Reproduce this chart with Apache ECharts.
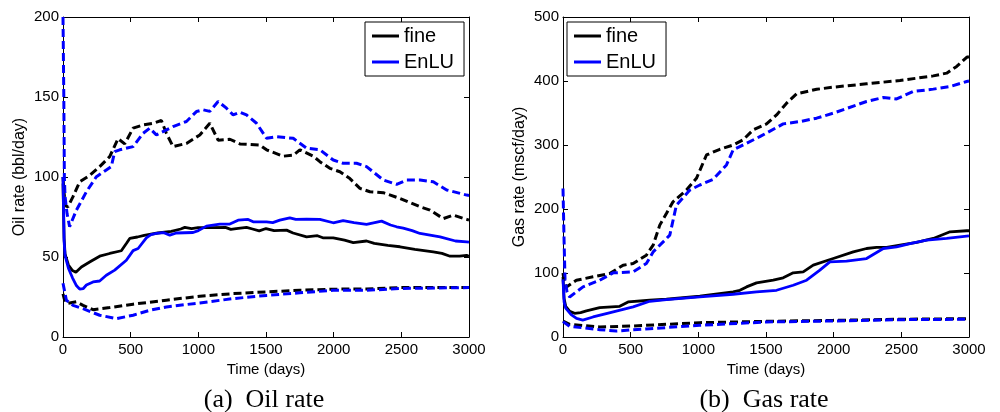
<!DOCTYPE html>
<html>
<head>
<meta charset="utf-8">
<script src="https://cdn.jsdelivr.net/npm/echarts@6/dist/echarts.min.js"></script>
<style>html,body{margin:0;padding:0;background:#fff;}#c{width:1000px;height:412px;}</style>
</head>
<body>
<div id="c"></div>
<script>
// ---------- data (time in days, rate) ----------
var xTicks = [0, 500, 1000, 1500, 2000, 2500, 3000];
var oilTicks = [0, 50, 100, 150, 200];
var gasTicks = [0, 100, 200, 300, 400, 500];
var legendNames = ['fine', 'EnLU'];
var captions = ['(a)  Oil rate', '(b)  Gas rate'];
var yNames = ['Oil rate (bbl/day)', 'Gas rate (mscf/day)'];
var xName = 'Time (days)';

var oilFineMean = [[0,96],[8,62],[15,52],[40,45],[70,41.5],[95,40.5],[136,43.8],[200,47],[271,50.5],[345,52.2],[431,53.9],[468,58.4],[493,61.6],[550,62.5],[600,63.5],[700,65],[800,66],[870,67.5],[900,68.5],[950,67.8],[998,68.3],[1100,68.3],[1200,68.5],[1240,67.3],[1280,67.8],[1356,68.5],[1400,67.5],[1450,66.3],[1500,67.8],[1560,66.5],[1652,66.8],[1700,65],[1800,62.6],[1880,63.3],[1920,62],[1997,62],[2080,60.5],[2145,59],[2243,60],[2300,58.5],[2400,57.3],[2490,56.4],[2600,54.8],[2736,53.2],[2800,52.3],[2860,50.5],[2930,50.5],[2983,51],[3000,50.5]];
var oilEnluMean = [[0,100],[8,60],[15,51],[40,43],[70,37],[100,32],[123,30],[150,30.3],[173,32.5],[222,34.4],[271,35],[320,38.6],[382,41.8],[468,48],[518,54],[555,55.3],[616,62],[650,64],[690,64.7],[740,65.3],[789,63.7],[838,65],[961,65.3],[1000,66.5],[1060,69.3],[1159,70.6],[1233,70.6],[1294,73],[1368,73.5],[1405,72],[1504,72],[1550,71.5],[1602,73],[1676,74.5],[1720,73.5],[1800,73.7],[1898,73.5],[1997,71.4],[2070,72.7],[2150,71.5],[2243,70.4],[2354,72.4],[2420,70],[2465,68.9],[2514,68],[2580,66.5],[2638,64.7],[2786,62.6],[2900,60],[2983,59.5],[3000,59.3]];
var oilFineUpper = [[0,100],[8,90],[20,82],[37,81.4],[74,87.7],[123,97],[197,101],[271,106.5],[345,112.7],[407,124],[456,120.7],[518,130.5],[592,132.6],[666,133.6],[727,135.3],[764,127.3],[813,119],[912,121],[1011,126.3],[1085,133.6],[1146,123],[1233,123.6],[1307,120.7],[1454,120],[1504,117],[1627,113],[1701,113.6],[1750,117],[1849,113],[1898,109.6],[1972,105.4],[2046,103.3],[2120,99],[2194,92.9],[2268,90.8],[2367,90.2],[2490,86.6],[2638,81.4],[2712,79.3],[2810,74],[2884,76.2],[2983,73.5],[3000,73]];
var oilEnluUpper = [[0,200],[6,150],[10,100],[15,88],[30,77],[49,69],[99,79.3],[173,90.8],[247,100.2],[320,104.4],[357,106.5],[382,115.9],[419,117],[518,119],[592,127.3],[641,130.5],[690,126.3],[764,129.4],[813,131.5],[912,134.7],[986,140.9],[1035,142],[1085,141],[1146,147.2],[1208,143],[1257,138.8],[1307,140.5],[1356,138.8],[1430,133.6],[1504,124.2],[1578,125.2],[1701,124.2],[1800,118],[1898,117],[1997,110.6],[2070,108.6],[2169,108.6],[2243,106.5],[2367,98.1],[2465,95.4],[2539,98.1],[2638,98.1],[2736,97],[2835,91.9],[2983,88.7],[3000,88.5]];
var oilFineLower = [[0,27],[15,22],[37,21],[99,22],[148,19.8],[222,17.1],[345,18.4],[518,20.5],[764,23],[1011,25.5],[1257,27.1],[1504,28.2],[1750,29.2],[1997,29.9],[2243,30],[2490,30.9],[3000,30.9]];
var oilEnluLower = [[0,33.6],[25,23],[74,19.8],[148,17.7],[271,13.6],[394,11.5],[518,13.6],[641,16.7],[764,18.8],[1011,21.3],[1257,24],[1504,26],[1750,27.6],[1997,29.2],[2243,29.2],[2490,30.3],[3000,30.9]];

var gasFineMean = [[0,94],[8,60],[20,48],[50,40],[86,37],[130,38],[173,40.7],[271,46],[419,48],[481,54.8],[641,57.4],[764,59],[1011,63.7],[1257,70.5],[1307,73],[1356,78.3],[1430,84.6],[1553,88.7],[1627,92.4],[1701,100.2],[1775,101.8],[1849,112.2],[1997,122.6],[2145,133],[2243,138.3],[2317,139.9],[2391,140],[2490,143.5],[2613,147.7],[2736,154],[2860,164.4],[2983,166],[3000,166]];
var gasEnluMean = [[0,90],[8,55],[20,45],[60,35],[100,29],[146,26.5],[222,31.3],[320,36.5],[518,47],[641,55.8],[764,58.5],[1011,62.6],[1257,66.8],[1430,70.5],[1578,73],[1701,80.9],[1800,88.7],[1898,104.4],[1972,117.4],[2095,118.5],[2243,122.6],[2367,138.3],[2465,140.9],[2564,146],[2687,151.3],[2835,154],[2983,157.6],[3000,158]];
var gasFineUpper = [[0,100],[10,85],[25,78],[99,88.7],[222,94],[345,99.2],[444,112.2],[518,114.8],[616,127.9],[666,143.5],[715,174.8],[764,193],[813,211.3],[912,229.6],[986,247.9],[1060,284.4],[1159,293.3],[1257,300],[1331,308],[1405,323.6],[1504,333],[1578,347],[1652,365.3],[1726,380],[1874,387],[1997,390.4],[2243,395.6],[2490,400.8],[2736,408],[2835,412.3],[2909,422.7],[2983,437],[3000,438]];
var gasEnluUpper = [[0,232],[8,150],[15,90],[30,70],[49,62.6],[148,78.3],[271,88.7],[370,100.2],[518,101.8],[616,114.8],[666,133],[740,148.7],[789,159.2],[838,206],[937,229.6],[1011,237.5],[1109,246.3],[1208,268.8],[1257,292.3],[1356,302.7],[1454,313],[1627,333],[1750,336.6],[1874,341.9],[1997,349.7],[2243,368],[2367,374.2],[2465,372],[2588,383.6],[2736,387.3],[2860,391.4],[2983,399.3],[3000,400]];
var gasFineLower = [[0,25],[49,19.8],[271,15.7],[518,17.2],[764,19.8],[1011,22.4],[1504,24.5],[1997,26],[2490,27.7],[3000,28.7]];
var gasEnluLower = [[0,24],[49,16.7],[271,11.5],[394,9.4],[641,13],[1011,18.3],[1504,23.5],[1997,25],[2490,27.1],[3000,27.7]];

// ---------- chart ----------
var FONT = '"Liberation Sans", Arial, Helvetica, sans-serif';
var SERIF = '"Liberation Serif", "Times New Roman", serif';
var BLACK = '#000000', BLUE = '#0000ff';
var chart = echarts.init(document.getElementById('c'), null, {renderer: 'canvas'});

var grids = [
  {left: 63, top: 17, width: 406, height: 320},
  {left: 563, top: 17, width: 406, height: 320}
];
var yTicksList = [oilTicks, gasTicks];

function tickStep(t) { return t[1] - t[0]; }
function plain(v) { return String(v); }

var xAxes = [], yAxes = [];
for (var g = 0; g < 2; g++) {
  var yt = yTicksList[g];
  xAxes.push({
    gridIndex: g, type: 'value', position: 'bottom',
    min: xTicks[0], max: xTicks[xTicks.length - 1], interval: tickStep(xTicks),
    name: xName, nameLocation: 'middle', nameGap: 22,
    nameTextStyle: {fontFamily: FONT, fontSize: 15, color: BLACK},
    axisLine: {onZero: false, lineStyle: {color: BLACK, width: 1}},
    axisTick: {inside: true, length: 5, lineStyle: {color: BLACK}},
    axisLabel: {fontFamily: FONT, fontSize: 15, color: BLACK, margin: 5, formatter: plain},
    splitLine: {show: false}
  });
  xAxes.push({
    gridIndex: g, type: 'value', position: 'top',
    min: xTicks[0], max: xTicks[xTicks.length - 1], interval: tickStep(xTicks),
    axisLine: {onZero: false, lineStyle: {color: BLACK, width: 1}},
    axisTick: {inside: true, length: 5, lineStyle: {color: BLACK}},
    axisLabel: {show: false}, splitLine: {show: false}
  });
  yAxes.push({
    gridIndex: g, type: 'value', position: 'left',
    min: yt[0], max: yt[yt.length - 1], interval: tickStep(yt),
    name: yNames[g], nameLocation: 'middle', nameGap: 35,
    nameTextStyle: {fontFamily: FONT, fontSize: 16, color: BLACK},
    axisLine: {onZero: false, lineStyle: {color: BLACK, width: 1}},
    axisTick: {inside: true, length: 5, lineStyle: {color: BLACK}},
    axisLabel: {fontFamily: FONT, fontSize: 15, color: BLACK, margin: 4, formatter: plain},
    splitLine: {show: false}
  });
  yAxes.push({
    gridIndex: g, type: 'value', position: 'right',
    min: yt[0], max: yt[yt.length - 1], interval: tickStep(yt),
    axisLine: {onZero: false, lineStyle: {color: BLACK, width: 1}},
    axisTick: {inside: true, length: 5, lineStyle: {color: BLACK}},
    axisLabel: {show: false}, splitLine: {show: false}
  });
}

function mk(name, data, g, color, dashed) {
  return {
    name: name, type: 'line', data: data,
    xAxisIndex: g * 2, yAxisIndex: g * 2,
    showSymbol: false, symbol: 'none', clip: true, silent: true,
    lineStyle: dashed ? {color: color, width: 3, type: [8, 4], cap: 'butt'}
                      : {color: color, width: 2.8},
    itemStyle: {color: color},
    z: dashed ? 2 : 3
  };
}

var series = [
  mk(legendNames[0], oilFineMean, 0, BLACK, false),
  mk(legendNames[1], oilEnluMean, 0, BLUE, false),
  mk('oilFineUpper', oilFineUpper, 0, BLACK, true),
  mk('oilFineLower', oilFineLower, 0, BLACK, true),
  mk('oilEnluUpper', oilEnluUpper, 0, BLUE, true),
  mk('oilEnluLower', oilEnluLower, 0, BLUE, true),
  mk(legendNames[0], gasFineMean, 1, BLACK, false),
  mk(legendNames[1], gasEnluMean, 1, BLUE, false),
  mk('gasFineUpper', gasFineUpper, 1, BLACK, true),
  mk('gasFineLower', gasFineLower, 1, BLACK, true),
  mk('gasEnluUpper', gasEnluUpper, 1, BLUE, true),
  mk('gasEnluLower', gasEnluLower, 1, BLUE, true)
];

function legendAt(left) {
  return {
    data: legendNames, orient: 'vertical', left: left, top: 22,
    icon: 'rect', itemWidth: 27, itemHeight: 3, itemGap: 6,
    padding: [4, 10, 4, 7], backgroundColor: '#fff',
    borderColor: BLACK, borderWidth: 1, borderRadius: 0,
    selectedMode: false,
    textStyle: {fontFamily: FONT, fontSize: 20, color: BLACK, lineHeight: 20}
  };
}

chart.setOption({
  animation: false,
  backgroundColor: '#fff',
  grid: grids,
  xAxis: xAxes,
  yAxis: yAxes,
  legend: [legendAt(365), legendAt(567)],
  series: series,
  graphic: [
    {type: 'text', x: 264, y: 400, style: {text: captions[0], fill: BLACK, font: '26px ' + SERIF, textAlign: 'center', textVerticalAlign: 'middle'}},
    {type: 'text', x: 764, y: 400, style: {text: captions[1], fill: BLACK, font: '26px ' + SERIF, textAlign: 'center', textVerticalAlign: 'middle'}}
  ]
});
</script>
</body>
</html>
